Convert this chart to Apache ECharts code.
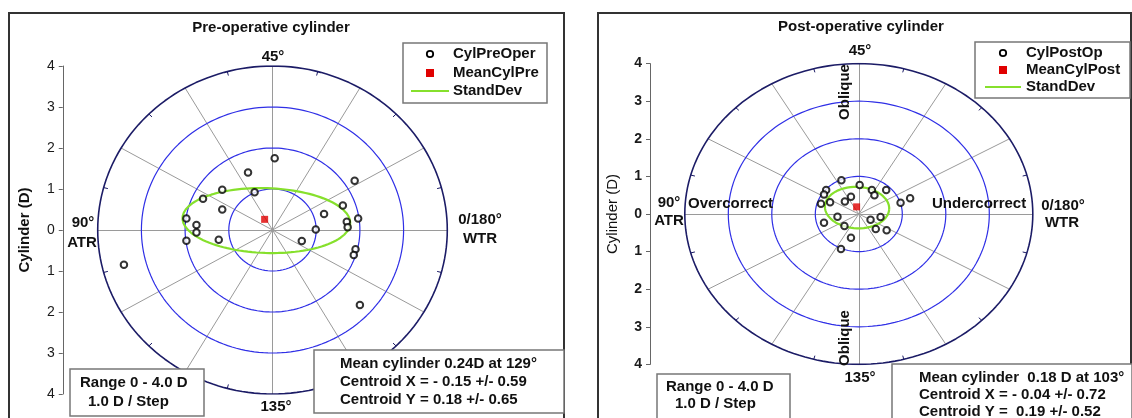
<!DOCTYPE html>
<html><head><meta charset="utf-8">
<script src="https://cdn.jsdelivr.net/npm/echarts@6/dist/echarts.min.js"></script>
<style>html,body{margin:0;padding:0;background:#fff}#c{width:1132px;height:418px}</style>
</head><body><div id="c"></div>
<script>
// ---------------- data ----------------
const preX = [0.05, -0.56, 1.88, -1.15, -0.41, -1.59, -1.15, 1.18, 1.61, -1.97, 1.96, -1.74, 1.70, 1.72, -1.74, 0.99, -1.97, -1.23, 0.67, 1.90, 1.86, -3.40, 2.00];
const preY = [1.75, 1.40, 1.20, 0.98, 0.92, 0.76, 0.50, 0.39, 0.60, 0.28, 0.28, 0.12, 0.20, 0.07, -0.06, 0.01, -0.26, -0.24, -0.27, -0.47, -0.61, -0.85, -1.83];
const preMean = [-0.18, 0.26];
// SD ellipse: centre x, centre y, semi-axis x, semi-axis y, tilt (deg)
const preSD = [-0.14, 0.23, 1.92, 0.79, -2];

const postX = [-0.40, 0.02, 0.30, 0.63, -0.75, -0.80, 0.36, -0.18, 1.18, -0.32, -0.66, 0.96, -0.87, -0.49, -0.80, -0.33, 0.27, 0.50, 0.39, 0.64, -0.18, -0.41];
const postY = [0.90, 0.77, 0.64, 0.64, 0.64, 0.52, 0.50, 0.46, 0.42, 0.33, 0.31, 0.30, 0.27, -0.07, -0.23, -0.32, -0.15, -0.08, -0.40, -0.43, -0.63, -0.93];
const postMean = [-0.05, 0.19];
const postSD = [-0.04, 0.17, 0.74, 0.55, -4];

const ringRadii = [1, 2, 3];
const outerRadius = 4;
const spokeAngles = [0, 30, 60, 90, 120, 150, 180, 210, 240, 270, 300, 330];
const minorTickAngles = [15, 45, 75, 105, 135, 165, 195, 225, 255, 285, 315, 345];
const yTickMin = -4, yTickMax = 4, yTickStep = 1;

const preStats = ['Mean cylinder 0.24D at 129°', 'Centroid X = - 0.15 +/- 0.59', 'Centroid Y = 0.18 +/- 0.65'];
const postStats = ['Mean cylinder  0.18 D at 103°', 'Centroid X = - 0.04 +/- 0.72', 'Centroid Y =  0.19 +/- 0.52'];
const rangeText = ['Range 0 - 4.0 D', '1.0 D / Step'];

// ---------------- helpers ----------------
const FONT = '"Liberation Sans", Arial, sans-serif';
function ring(r) {
  const p = [];
  for (let d = 0; d <= 360; d += 2) { const t = d * Math.PI / 180; p.push([r * Math.cos(t), r * Math.sin(t)]); }
  return p;
}
function ellipse(e) {
  const [cx, cy, a, b, tilt] = e; const ph = tilt * Math.PI / 180; const p = [];
  for (let d = 0; d <= 360; d += 3) {
    const t = d * Math.PI / 180; const ex = a * Math.cos(t), ey = b * Math.sin(t);
    p.push([cx + ex * Math.cos(ph) - ey * Math.sin(ph), cy + ex * Math.sin(ph) + ey * Math.cos(ph)]);
  }
  return p;
}
function zip(xs, ys) { return xs.map((x, i) => [x, ys[i]]); }

function panelSeries(idx, xs, ys, mean, sd, ptName, meanName) {
  const base = { xAxisIndex: idx, yAxisIndex: idx, silent: true, animation: false };
  const s = [];
  s.push(Object.assign({}, base, {
    type: 'lines', coordinateSystem: 'cartesian2d', polyline: false, z: 1,
    lineStyle: { color: '#9a9a9a', width: 1, opacity: 1 },
    data: spokeAngles.map(a => { const t = a * Math.PI / 180; return { coords: [[0, 0], [outerRadius * Math.cos(t), outerRadius * Math.sin(t)]] }; })
  }));
  s.push(Object.assign({}, base, {
    type: 'lines', coordinateSystem: 'cartesian2d', polyline: false, z: 2,
    lineStyle: { color: '#1c1c66', width: 1, opacity: 1 },
    data: minorTickAngles.map(a => { const t = a * Math.PI / 180; return { coords: [[3.9 * Math.cos(t), 3.9 * Math.sin(t)], [outerRadius * Math.cos(t), outerRadius * Math.sin(t)]] }; })
  }));
  ringRadii.forEach(r => s.push(Object.assign({}, base, {
    type: 'line', data: ring(r), showSymbol: false, z: 2,
    lineStyle: { color: '#2f2fe6', width: 1.2 }
  })));
  s.push(Object.assign({}, base, {
    type: 'line', data: ring(outerRadius), showSymbol: false, z: 2,
    lineStyle: { color: '#1c1c66', width: 1.6 }
  }));
  s.push(Object.assign({}, base, {
    name: 'StandDev', type: 'line', data: ellipse(sd), showSymbol: false, z: 3,
    lineStyle: { color: '#86e02c', width: 2.2 }
  }));
  s.push(Object.assign({}, base, {
    name: ptName, type: 'scatter', data: zip(xs, ys), symbol: 'emptyCircle', symbolSize: 6.5, z: 4,
    itemStyle: { color: '#000', borderColor: '#000', borderWidth: 1.7 }
  }));
  s.push(Object.assign({}, base, {
    name: meanName, type: 'scatter', data: [mean], symbol: 'rect', symbolSize: 7, z: 5,
    itemStyle: { color: '#e00000' }
  }));
  return s;
}

function yAxisCfg(idx, boldLabels, boldName) {
  return {
    gridIndex: idx, type: 'value', min: yTickMin, max: yTickMax, interval: yTickStep,
    axisLine: { show: true, onZero: false, lineStyle: { color: '#666', width: 1 } },
    axisTick: { show: true, length: 4, lineStyle: { color: '#666' } },
    axisLabel: { formatter: v => String(Math.abs(v)), fontSize: 14, color: '#1a1a1a', margin: 8, fontFamily: FONT, fontWeight: boldLabels ? 'bold' : 'normal' },
    splitLine: { show: false },
    name: 'Cylinder (D)', nameLocation: 'middle', nameGap: 30,
    nameTextStyle: { fontSize: 15, fontWeight: boldName ? 'bold' : 'normal', color: '#111', fontFamily: FONT }
  };
}

// ---------------- graphic annotations ----------------
function txt(text, x, y, opts) {
  opts = opts || {};
  return {
    type: 'text', x: x, y: y, rotation: opts.rot || 0, z: 100,
    style: {
      text: text, x: 0, y: 0, fill: '#111',
      font: (opts.weight || 'bold') + ' ' + (opts.size || 15) + 'px ' + FONT,
      align: opts.align || 'left', textAlign: opts.align || 'left',
      verticalAlign: 'middle', textVerticalAlign: 'middle'
    }
  };
}
function box(x, y, w, h, stroke, lw) {
  return { type: 'rect', z: 90, shape: { x: x, y: y, width: w, height: h }, style: { fill: '#fff', stroke: stroke || '#777', lineWidth: lw || 1.5 } };
}
function legend(x0, y0, w, h, mx, tx, rows, lineX1, lineX2, names) {
  const g = [box(x0, y0, w, h, '#777', 1.5)];
  g.push({ type: 'circle', z: 101, shape: { cx: mx, cy: rows[0], r: 3.2 }, style: { fill: '#fff', stroke: '#000', lineWidth: 1.8 } });
  g.push({ type: 'rect', z: 101, shape: { x: mx - 4, y: rows[1] - 4, width: 8, height: 8 }, style: { fill: '#e00000' } });
  g.push({ type: 'line', z: 101, shape: { x1: lineX1, y1: rows[2], x2: lineX2, y2: rows[2] }, style: { stroke: '#86e02c', lineWidth: 2.2 } });
  names.forEach((n, i) => g.push(txt(n, tx, rows[i])));
  return g;
}

const graphics = [
  // panel frames
  { type: 'rect', z: 0, shape: { x: 9, y: 13, width: 555, height: 420 }, style: { fill: 'none', stroke: '#333', lineWidth: 2 } },
  { type: 'rect', z: 0, shape: { x: 598, y: 13, width: 533, height: 420 }, style: { fill: 'none', stroke: '#333', lineWidth: 2 } },
  // left panel
  txt('Pre-operative cylinder', 271, 28, { align: 'center' }),
  txt('45°', 273, 57, { align: 'center' }),
  txt('135°', 276, 407, { align: 'center' }),
  txt('90°', 83, 223, { align: 'center' }),
  txt('ATR', 82, 243, { align: 'center' }),
  txt('0/180°', 480, 220, { align: 'center' }),
  txt('WTR', 480, 239, { align: 'center' }),
  ...legend(403, 43, 144, 60, 430, 453, [54, 73, 91], 411, 449, ['CylPreOper', 'MeanCylPre', 'StandDev']),
  box(70, 369, 134, 47, '#777', 1.5),
  txt(rangeText[0], 80, 383), txt(rangeText[1], 88, 402),
  box(314, 350, 250, 63, '#777', 1.5),
  txt(preStats[0], 340, 364), txt(preStats[1], 340, 382), txt(preStats[2], 340, 400),
  // right panel
  txt('Post-operative cylinder', 861, 27, { align: 'center' }),
  txt('45°', 860, 51, { align: 'center' }),
  txt('135°', 860, 378, { align: 'center' }),
  txt('90°', 669, 203, { align: 'center' }),
  txt('ATR', 669, 221, { align: 'center' }),
  txt('0/180°', 1063, 206, { align: 'center' }),
  txt('WTR', 1062, 223, { align: 'center' }),
  txt('Overcorrect', 688, 204),
  txt('Undercorrect', 932, 204),
  txt('Oblique', 845, 92, { align: 'center', rot: Math.PI / 2 }),
  txt('Oblique', 845, 338, { align: 'center', rot: Math.PI / 2 }),
  ...legend(975, 42, 155, 56, 1003, 1026, [53, 70, 87], 985, 1021, ['CylPostOp', 'MeanCylPost', 'StandDev']),
  box(657, 374, 133, 52, '#777', 1.5),
  txt(rangeText[0], 666, 387), txt(rangeText[1], 675, 404),
  box(892, 364, 240, 60, '#777', 1.5),
  txt(postStats[0], 919, 378), txt(postStats[1], 919, 395), txt(postStats[2], 919, 412)
];

const chart = echarts.init(document.getElementById('c'), null, { renderer: 'canvas' });
chart.setOption({
  animation: false,
  backgroundColor: '#fff',
  grid: [
    { left: 62.75, top: 66, width: 419.5, height: 328 },
    { left: 650, top: 63.6, width: 417.6, height: 300.8 }
  ],
  xAxis: [
    { gridIndex: 0, type: 'value', min: -4.8, max: 4.8, show: false },
    { gridIndex: 1, type: 'value', min: -4.8, max: 4.8, show: false }
  ],
  yAxis: [yAxisCfg(0, false, true), yAxisCfg(1, true, false)],
  series: [
    ...panelSeries(0, preX, preY, preMean, preSD, 'CylPreOper', 'MeanCylPre'),
    ...panelSeries(1, postX, postY, postMean, postSD, 'CylPostOp', 'MeanCylPost')
  ],
  graphic: graphics
});
</script>
</body></html>
